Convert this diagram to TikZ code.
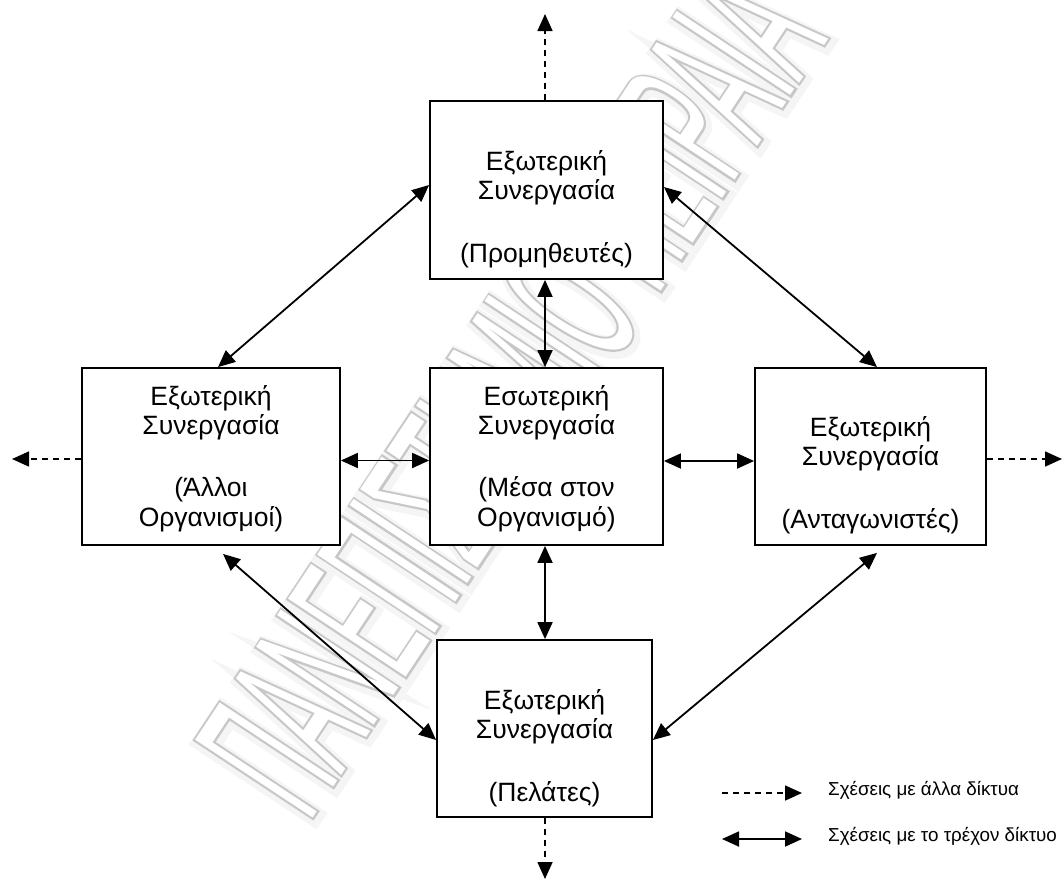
\documentclass[tikz,border=0pt]{standalone}
\usepackage{fontspec}
\setmainfont{Liberation Sans}
% condensed faces for the diagonal background lettering
\newfontfamily\wmhalo[FakeStretch=0.39,FakeBold=6]{Liberation Sans}
\newfontfamily\wmline[FakeStretch=0.39,FakeBold=2]{Liberation Sans}
\newfontfamily\wmfill[FakeStretch=0.39]{Liberation Sans}
\usetikzlibrary{arrows.meta}
\begin{document}
\begin{tikzpicture}[x=1pt,y=-1pt,
  box/.style={draw, fill=white, line width=1.8pt, rectangle, inner sep=0pt},
  txt/.style={font=\fontsize{26.5}{29.3}\selectfont, align=center, anchor=base, inner sep=0pt},
  legtxt/.style={font=\fontsize{18.8}{22}\selectfont, anchor=mid west, inner sep=0pt},
  both/.style={line width=1.8pt, {Triangle[length=17pt,width=15pt]}-{Triangle[length=17pt,width=15pt]}},
  ext/.style={line width=1.6pt, dash pattern=on 6pt off 5pt, -{Triangle[length=17pt,width=15pt]}},
  wm/.style={rotate=56.5, inner sep=0pt},
]
\fill[white] (0,0) rectangle (1062,881);
\useasboundingbox (0,0) rectangle (1062,881);

% faint outlined lettering across the background, with a soft halo
\node[wm, text=black!4, font=\wmhalo\fontsize{205}{205}\selectfont] (wmS) at (512,395) {ΠΑΝΕΠΙΣΤΗΜΙΟ ΠΕΙΡΑΙΑ};
\node[wm, text=black!22, font=\wmline\fontsize{205}{205}\selectfont] (wmA) at (510,392) {ΠΑΝΕΠΙΣΤΗΜΙΟ ΠΕΙΡΑΙΑ};
\node[wm, text=white, font=\wmfill\fontsize{205}{205}\selectfont] (wmB) at (510,392) {ΠΑΝΕΠΙΣΤΗΜΙΟ ΠΕΙΡΑΙΑ};

% boxes
\node[box, minimum width=233pt, minimum height=178pt] (sup) at (546.5,190) {};
\node[box, minimum width=258pt, minimum height=177pt] (oth) at (211,456.5) {};
\node[box, minimum width=233pt, minimum height=177pt] (int) at (546.5,456.5) {};
\node[box, minimum width=231pt, minimum height=177pt] (com) at (870.5,456.5) {};
\node[box, minimum width=215pt, minimum height=177pt] (cus) at (544.5,728.5) {};

% box texts (anchored at the baseline of the last line)
\node[txt] (supT) at (546.5,262) {Εξωτερική\\Συνεργασία\\[33pt](Προμηθευτές)};
\node[txt] (othT) at (211,526) {Εξωτερική\\Συνεργασία\\[33pt](Άλλοι\\Οργανισμοί)};
\node[txt] (intT) at (546.5,526) {Εσωτερική\\Συνεργασία\\[33pt](Μέσα στον\\Οργανισμό)};
\node[txt] (comT) at (870.5,528) {Εξωτερική\\Συνεργασία\\[33pt](Ανταγωνιστές)};
\node[txt] (cusT) at (544.5,801) {Εξωτερική\\Συνεργασία\\[33pt](Πελάτες)};

% outward relations
\coordinate (upEnd) at (545,14);
\coordinate (leftEnd) at (12,459);
\coordinate (rightEnd) at (1062,459);
\coordinate (downEnd) at (545,879);
\draw[ext] ([xshift=-1.5pt]sup.north) -- (upEnd);
\draw[ext] ([yshift=-2.5pt]oth.west) -- (leftEnd);
\draw[ext] ([yshift=-2.5pt]com.east) -- (rightEnd);
\draw[ext] ([xshift=0.5pt]cus.south) -- (downEnd);

% relations inside the network
\draw[both] ([xshift=-1.5pt]sup.south) -- ([xshift=-1.5pt]int.north);
\draw[both] ([xshift=-1.5pt]int.south) -- ([xshift=0.5pt]cus.north);
\draw[both] ([yshift=-4pt]oth.east) -- ([yshift=-4pt]int.west);
\draw[both] ([yshift=-4.5pt]int.east) -- ([yshift=-4.5pt]com.west);
\draw[both] ([yshift=5pt]sup.west) -- ([xshift=7pt]oth.north);
\draw[both] ([yshift=3pt]sup.east) -- ([xshift=6.5pt]com.north);
\draw[both] ([xshift=12pt,yshift=-8pt]oth.south) -- ([yshift=-11.5pt]cus.west);
\draw[both] ([xshift=6.5pt,yshift=-7pt]com.south) -- ([yshift=-11.5pt]cus.east);

% legend
\coordinate (l1a) at (722,793);
\coordinate (l1b) at (802,793);
\coordinate (l2a) at (722,839);
\coordinate (l2b) at (802,839);
\draw[ext] (l1a) -- (l1b);
\draw[both] (l2a) -- (l2b);
\node[legtxt] (leg1) at (828,793) {Σχέσεις με άλλα δίκτυα};
\node[legtxt] (leg2) at (828,839) {Σχέσεις με το τρέχον δίκτυο};
\end{tikzpicture}
\end{document}
